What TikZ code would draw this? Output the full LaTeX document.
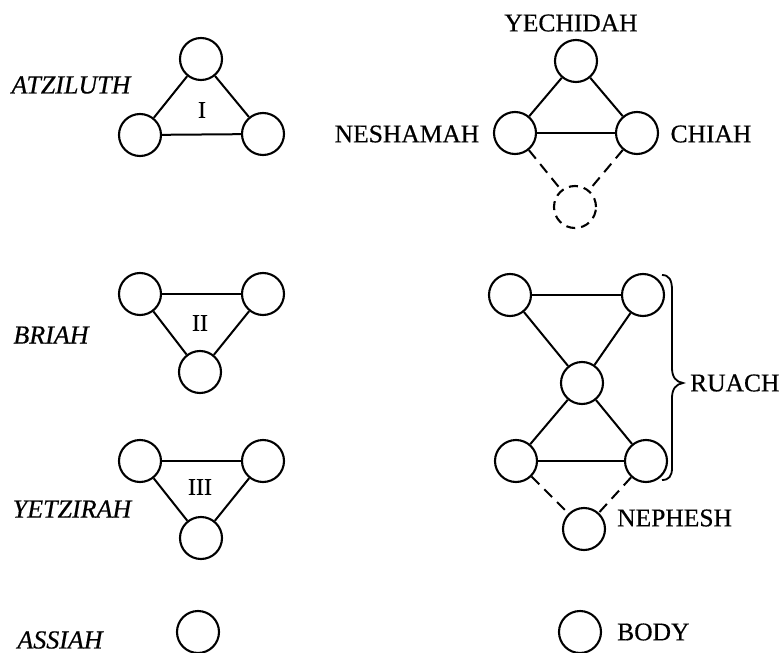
\documentclass[tikz,border=0pt]{standalone}
\usepackage{fontspec}
\setmainfont{Liberation Serif}[FakeBold=0.5]
\begin{document}
\begin{tikzpicture}[x=1pt,y=-1pt,
  sph/.style={circle,draw,line width=2.1pt,minimum size=42pt,inner sep=0pt},
  ghost/.style={sph,dash pattern=on 9pt off 6pt},
  link/.style={line width=2pt},
  dlink/.style={line width=2pt,dash pattern=on 11pt off 7pt},
  world/.style={inner sep=0pt,font=\fontsize{26}{30}\selectfont\itshape},
  part/.style={inner sep=0pt,font=\fontsize{25.5}{30}\selectfont},
  numeral/.style={inner sep=0pt,font=\fontsize{24}{28}\selectfont}]
\useasboundingbox (0,0) rectangle (780,653);

% ---- the four worlds ----
\node[world] (atz) at (71,85) {ATZILUTH};
\node[world] (bri) at (51,335) {BRIAH};
\node[world] (yet) at (72,509) {YETZIRAH};
\node[world] (ass) at (60,640) {ASSIAH};

% Atziluth
\node[sph] (a1) at (201,59) {};
\node[sph] (a2) at (140,135) {};
\node[sph] (a3) at (263,134) {};
\node[numeral] (n1) at (202,110) {I};
\draw[link] (a1) -- (a2);
\draw[link] (a1) -- (a3);
\draw[link] (a2) -- (a3);

% Briah
\node[sph] (b1) at (140,294) {};
\node[sph] (b2) at (263,294) {};
\node[sph] (b3) at (200,372) {};
\node[numeral] (n2) at (200,323) {II};
\draw[link] (b1) -- (b2);
\draw[link] (b1) -- (b3);
\draw[link] (b2) -- (b3);

% Yetzirah
\node[sph] (y1) at (140,461) {};
\node[sph] (y2) at (263,461) {};
\node[sph] (y3) at (201,538) {};
\node[numeral] (n3) at (200,487) {III};
\draw[link] (y1) -- (y2);
\draw[link] (y1) -- (y3);
\draw[link] (y2) -- (y3);

% Assiah
\node[sph] (s1) at (198,632) {};

% ---- parts of the soul ----
\node[sph] (yech) at (576,61) {};
\node[sph] (nesh) at (515,133) {};
\node[sph] (chia) at (637,133) {};
\node[ghost] (hid) at (575,207) {};
\node[part] at (571,23) {YECHIDAH};
\node[part] at (407,134) {NESHAMAH};
\node[part] at (711,134) {CHIAH};
\draw[link] (yech) -- (nesh);
\draw[link] (yech) -- (chia);
\draw[link] (nesh) -- (chia);
\draw[dlink] (nesh) -- (hid);
\draw[dlink] (chia) -- (hid);

% Ruach
\node[sph] (r1) at (510,295) {};
\node[sph] (r2) at (643,295) {};
\node[sph] (r3) at (582,383) {};
\node[sph] (r4) at (516,461) {};
\node[sph] (r5) at (646,461) {};
\draw[link] (r1) -- (r2);
\draw[link] (r1) -- (r3);
\draw[link] (r2) -- (r3);
\draw[link] (r3) -- (r4);
\draw[link] (r3) -- (r5);
\draw[link] (r4) -- (r5);

% Nephesh
\node[sph] (neph) at (584,529) {};
\node[part,anchor=west] at (617,518) {NEPHESH};
\draw[dlink] (r4) -- (neph);
\draw[dlink] (r5) -- (neph);

% brace grouping the Ruach
\draw[line width=1.8pt]
  (662,275) .. controls (669,275) and (672,280) .. (672,290)
  -- (672,368) .. controls (672,377) and (676,382) .. (683,383)
  .. controls (676,384) and (672,389) .. (672,398)
  -- (672,468) .. controls (672,476) and (669,480) .. (662,480);
\node[part,anchor=west] at (690,383) {RUACH};

% Body
\node[sph] (body) at (580,632) {};
\node[part,anchor=west] at (617,632) {BODY};
\end{tikzpicture}
\end{document}
